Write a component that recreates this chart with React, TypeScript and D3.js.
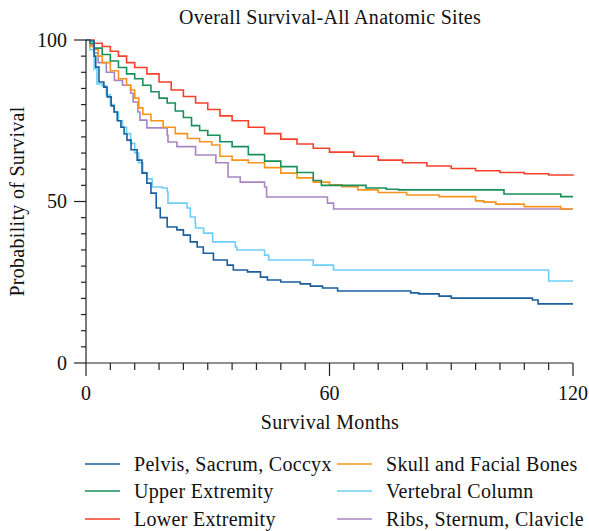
import React from 'react';
import * as d3 from 'd3';

// survival curves: [month, % surviving]
const pelvis: [number, number][] = [
  [0, 100], [1, 99.7], [2, 95], [2.4, 91.6], [3.2, 87], [4.4, 85.4], [5.2, 82.4], [6.2, 79.6],
  [6.9, 77.7], [7.7, 75], [8.6, 73], [9.4, 70.9], [10.1, 69], [11.1, 66], [12.6, 62.8],
  [13.8, 58.8], [15, 55.7], [16, 52.6], [17.3, 48], [18.3, 45], [20, 42.1], [22.4, 41.2],
  [24, 39.6], [25.7, 37.5], [27.4, 35.9], [28.9, 34], [31.4, 31.9], [34.8, 30.3], [36.3, 28.8],
  [39.8, 28.2], [43, 26.6], [44.7, 25.7], [48, 25.1], [52.8, 24.5], [55.3, 23.8], [58.3, 23.2],
  [62, 22.3], [80, 21.7], [82, 21.4], [87, 20.7], [90, 20.1], [110, 19.5], [111.4, 18.3], [120, 18.3],
];
const upper: [number, number][] = [
  [0, 100], [1, 99], [2, 97.5], [4, 95.5], [6, 93.5], [8, 91.5], [10, 89.5], [12, 88], [14, 86],
  [16, 84], [18, 82], [20, 80.5], [22, 78], [24, 76], [26, 73.5], [28, 72], [30, 70.5], [33, 68.5],
  [36, 67], [40, 64.5], [44, 62.5], [48, 60.8], [52, 59], [56, 56.5], [58, 55], [64, 55],
  [69, 54.2], [74, 53.8], [77, 53.6], [102, 53.6], [103, 52.3], [116, 52.3], [117, 51.5], [120, 51.5],
];
const lower: [number, number][] = [
  [0, 100], [2, 99], [4, 98], [6, 96.5], [8, 95], [10, 93], [12, 91.5], [15, 89.5], [18, 87],
  [21, 84.5], [24, 82.5], [27, 80.5], [30, 78.5], [33, 76.5], [36, 75], [40, 73], [44, 71],
  [48, 69.3], [52, 67.8], [56, 66.5], [60, 65.3], [66, 64], [72, 62.8], [78, 62], [84, 61],
  [90, 60.2], [96, 59.5], [102, 59], [108, 58.6], [114, 58.2], [120, 58],
];
const skull: [number, number][] = [
  [0, 100], [1, 98], [2, 97], [3, 95], [4, 93], [6, 90.5], [8, 88], [10, 86], [11, 84.5], [12, 82],
  [13, 79], [14, 77], [16, 75], [19, 73], [22, 71], [25, 69.5], [28, 68.5], [31, 67.5], [33, 64],
  [36, 62.8], [40, 62], [44, 60.5], [48, 58.8], [52, 57.3], [56, 56], [60, 55.2], [63, 54.6],
  [67, 53.6], [72, 52.8], [79, 52], [87, 51.5], [96, 50.2], [98, 49.8], [101, 49.2], [108, 48.4],
  [117, 47.7], [120, 47.7],
];
const vertebral: [number, number][] = [
  [0, 100], [1, 97], [2, 91], [2.7, 86.4], [4, 85.8], [5, 83], [6, 80], [7, 77.7], [8, 75], [9, 73],
  [10, 71], [11, 68], [12, 65], [13, 62], [14, 59], [15, 57], [16.3, 54.5], [18.8, 54.2], [20, 53],
  [20.2, 49.5], [24, 49.5], [24.9, 48], [25.7, 45.2], [26.9, 43.3], [27, 41.8], [28.9, 41.8],
  [29, 40.2], [31, 40.2], [31.2, 37.5], [36, 37.5], [36.8, 35.9], [37.2, 35], [43.7, 35],
  [44, 33.4], [45, 31.9], [55.8, 31.9], [56, 30.3], [60.7, 30.3], [61, 28.8], [113.8, 28.8],
  [114, 25.4], [120, 25.4],
];
const ribs: [number, number][] = [
  [0, 100], [1, 98.5], [2, 96], [3, 93], [5, 90], [7, 87.5], [9, 86], [11, 83.5], [11.6, 80.8],
  [12.8, 77.7], [13.3, 75.2], [15, 72.8], [20, 70.6], [20.2, 68.4], [22.4, 67], [27, 64.4],
  [32, 62], [35, 57.6], [38, 56], [43, 56], [44, 54.5], [44.5, 51.4], [59, 51.4], [59.5, 49.5],
  [61, 47.7], [120, 47.7],
];

const names = [
  'Pelvis, Sacrum, Coccyx', 'Upper Extremity', 'Lower Extremity',
  'Skull and Facial Bones', 'Vertebral Column', 'Ribs, Sternum, Clavicle',
];
const colors = ['#1b5e9e', '#17905a', '#f5402a', '#f7941d', '#6dcff6', '#a885c2'];
const curves = [pelvis, upper, lower, skull, vertebral, ribs];

const xTicks = [0, 60, 120];
const yTicks = [0, 50, 100];

const W = 589;
const H = 531;
const left = 86, right = 573, top = 40, bottom = 363;
const font = '"Liberation Serif", "DejaVu Serif", serif';
const fs = 20;

const App: React.FC = () => {
  const x = d3.scaleLinear().domain([0, 120]).range([left, right]);
  const y = d3.scaleLinear().domain([0, 100]).range([bottom, top]);

  const line = d3.line<[number, number]>()
    .x(d => x(d[0]))
    .y(d => y(d[1]))
    .curve(d3.curveStepAfter);

  const xMinor = d3.range(0, 121, 6).filter(v => !xTicks.includes(v));
  const yMinor = d3.range(0, 101, 5).filter(v => !yTicks.includes(v));

  // draw order: light colours first so dark ones sit on top
  const order = [4, 5, 3, 1, 2, 0];

  return (
    <svg width={W} height={H} style={{ position: 'absolute', left: 0, top: 0 }} fontFamily={font}>
      <rect width={W} height={H} fill="#fff" />
      <text x={330} y={24} textAnchor="middle" fontSize={fs} letterSpacing={0.3} fill="#111">
        Overall Survival-All Anatomic Sites
      </text>

      {order.map(i => (
        <path key={i} d={line(curves[i]) ?? ''} fill="none" stroke={colors[i]} strokeWidth={1.6} />
      ))}

      {/* axes */}
      <g stroke="#222" strokeWidth={1.2}>
        <line x1={left} x2={left} y1={top} y2={bottom} />
        {yTicks.map(v => <line key={v} x1={left - 12} x2={left} y1={y(v)} y2={y(v)} />)}
        {yMinor.map(v => <line key={v} x1={left - 5} x2={left} y1={y(v)} y2={y(v)} />)}
        <line x1={left} x2={right} y1={bottom} y2={bottom} />
        {xTicks.map(v => <line key={v} x1={x(v)} x2={x(v)} y1={bottom} y2={bottom + 13} />)}
        {xMinor.map(v => <line key={v} x1={x(v)} x2={x(v)} y1={bottom} y2={bottom + 7} />)}
      </g>
      {yTicks.map(v => (
        <text key={v} x={left - 19} y={y(v)} dy="0.33em" textAnchor="end" fontSize={fs} fill="#111">{v}</text>
      ))}
      {xTicks.map(v => (
        <text key={v} x={x(v)} y={400} textAnchor="middle" fontSize={fs} fill="#111">{v}</text>
      ))}
      <text x={330} y={429} textAnchor="middle" fontSize={fs} letterSpacing={0.3} fill="#111">Survival Months</text>
      <text transform={`translate(24,${(top + bottom) / 2}) rotate(-90)`} textAnchor="middle" fontSize={fs}
        letterSpacing={0.3} fill="#111">
        Probability of Survival
      </text>

      {/* legend */}
      {names.map((n, i) => {
        const col = Math.floor(i / 3);
        const row = i % 3;
        const ly = [464, 491, 519][row];
        const lx = col === 0 ? 85 : 337;
        return (
          <g key={n}>
            <line x1={lx} x2={lx + 35} y1={ly} y2={ly} stroke={colors[i]} strokeWidth={1.6} />
            <text x={lx + 49} y={ly} dy="0.33em" fontSize={fs} letterSpacing={0.3} fill="#111">{n}</text>
          </g>
        );
      })}
    </svg>
  );
};

export default App;
